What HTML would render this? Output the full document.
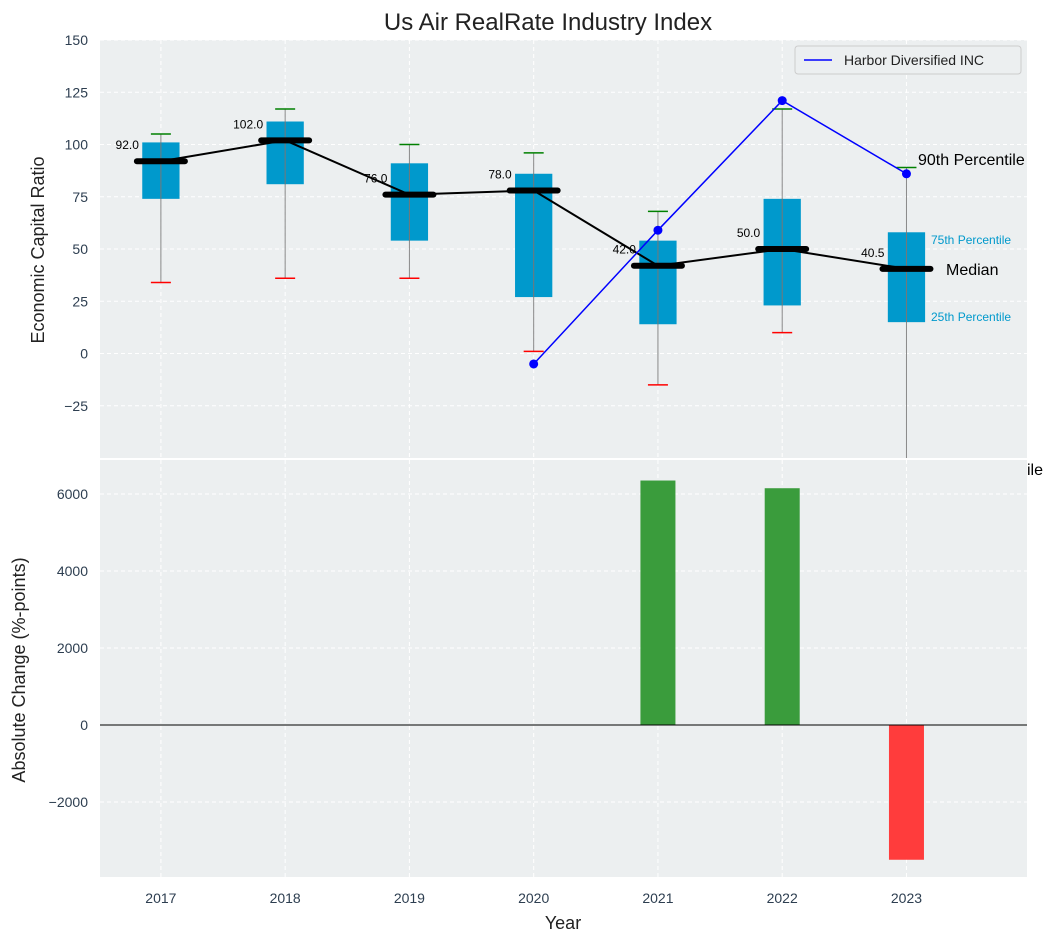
<!DOCTYPE html>
<html><head><meta charset="utf-8"><style>
body{margin:0;background:#fff;font-family:"Liberation Sans","DejaVu Sans",sans-serif}
svg{display:block}
</style></head><body>
<svg id="c" width="1053" height="942" xmlns="http://www.w3.org/2000/svg"></svg>
<script>
const years=[2017,2018,2019,2020,2021,2022,2023];
const q1=[74,81,54,27,14,23,15];
const q3=[101,111,91,86,54,74,58];
const medians=[92,102,76,78,42,50,40.5];
const p10=[34,36,36,1,-15,10,-60];
const p90=[105,117,100,96,68,117,89];
const harborYears=[2020,2021,2022,2023];
const harborVals=[-5,59,121,86];
const changeVals=[null,null,null,null,6350,6150,-3500];
const topTicks=[150,125,100,75,50,25,0,-25];
const botTicks=[6000,4000,2000,0,-2000];

const NS="http://www.w3.org/2000/svg";
const svg=document.getElementById('c');
function el(t,a,p){const e=document.createElementNS(NS,t);for(const k in a)e.setAttribute(k,a[k]);(p||svg).appendChild(e);return e;}
const L=100,R=1027;
const x=v=>L+(v-2016.51)/(2023.97-2016.51)*(R-L);
const T0=40,T1=458,B0=460,B1=877;
const yT=v=>T0+(150-v)/200*(T1-T0);
const yB=v=>B0+(6883-v)/(6883+3948)*(B1-B0);

let e;
e=el('rect',{x:L,y:T0,width:R-L,height:T1-T0,fill:'#eceff0'});

const grid=el('g',{stroke:'#fff','stroke-dasharray':'4,3','stroke-width':1});

years.forEach(v=>el('line',{x1:x(v),x2:x(v),y1:T0,y2:T1},grid));
topTicks.forEach(v=>el('line',{x1:L,x2:R,y1:yT(v),y2:yT(v)},grid));

const ta={'font-size':14,fill:'#2d3e50','text-anchor':'end'};
topTicks.forEach(v=>{e=el('text',Object.assign({x:L-12,y:yT(v)+5},ta));e.textContent=v<0?'−'+(-v):v;});
botTicks.forEach(v=>{e=el('text',Object.assign({x:L-12,y:yB(v)+5},ta));e.textContent=v<0?'−'+(-v):v;});
years.forEach(v=>{e=el('text',{x:x(v),y:903,'font-size':14,fill:'#2d3e50','text-anchor':'middle'});e.textContent=v;});

const bw=(x(2018)-x(2017))*0.3;
years.forEach((v,i)=>{
 const g=el('g',{});
 el('line',{x1:x(v),x2:x(v),y1:yT(p90[i]),y2:Math.min(T1,yT(p10[i])),stroke:'#888','stroke-width':1},g);
 el('rect',{x:x(v)-bw/2,y:yT(q3[i]),width:bw,height:yT(q1[i])-yT(q3[i]),fill:'#0099cc'},g);
 el('line',{x1:x(v),x2:x(v),y1:yT(q3[i]),y2:yT(q1[i]),stroke:'#777','stroke-width':1},g);
 el('line',{x1:x(v)-10,x2:x(v)+10,y1:yT(p90[i]),y2:yT(p90[i]),stroke:'green','stroke-width':1.5},g);
 if(yT(p10[i])<T1)el('line',{x1:x(v)-10,x2:x(v)+10,y1:yT(p10[i]),y2:yT(p10[i]),stroke:'red','stroke-width':1.5},g);
});
e=el('polyline',{points:years.map((v,i)=>x(v)+','+yT(medians[i])).join(' '),fill:'none',stroke:'#000','stroke-width':2});

years.forEach((v,i)=>{
 e=el('line',{x1:x(v)-24,x2:x(v)+24,y1:yT(medians[i]),y2:yT(medians[i]),stroke:'#000','stroke-width':6,'stroke-linecap':'round'});
 
 e=el('text',{x:x(v)-22,y:yT(medians[i])-12,'font-size':12,fill:'#000','text-anchor':'end'});e.textContent=medians[i].toFixed(1);
 
});
e=el('polyline',{points:harborYears.map((v,i)=>x(v)+','+yT(harborVals[i])).join(' '),fill:'none',stroke:'#0000ff','stroke-width':1.5});

harborYears.forEach((v,i)=>{e=el('circle',{cx:x(v),cy:yT(harborVals[i]),r:4.5,fill:'#0000ff'});});

const ann=[['90th Percentile',918,165,16,'#000'],['75th Percentile',931,244,12,'#0099cc'],['Median',946,275,16,'#000'],['25th Percentile',931,321,12,'#0099cc'],['10th Percentile',1043,475,16,'#000','end']];
ann.forEach(a=>{e=el('text',{x:a[1],y:a[2],'font-size':a[3],fill:a[4],'text-anchor':a[5]||'start'});e.textContent=a[0];});

// bottom panel drawn after annotations so it hides the overflowing label
e=el('rect',{x:L,y:B0,width:R-L,height:B1-B0,fill:'#eceff0'});

const grid2=el('g',{stroke:'#fff','stroke-dasharray':'4,3','stroke-width':1});

years.forEach(v=>el('line',{x1:x(v),x2:x(v),y1:B0,y2:B1},grid2));
botTicks.forEach(v=>el('line',{x1:L,x2:R,y1:yB(v),y2:yB(v)},grid2));

const barW=35;
years.forEach((v,i)=>{
 if(changeVals[i]==null)return;
 const y0=yB(0),y1=yB(changeVals[i]);
 e=el('rect',{x:x(v)-barW/2,y:Math.min(y0,y1),width:barW,height:Math.abs(y1-y0),fill:changeVals[i]>=0?'#3a9c3c':'#ff3c3c'});
 
});
e=el('line',{x1:L,x2:R,y1:yB(0),y2:yB(0),stroke:'#000','stroke-width':1});


e=el('text',{x:548,y:30,'font-size':24,fill:'#222','text-anchor':'middle'});e.textContent='Us Air RealRate Industry Index';
e=el('text',{x:0,y:0,'font-size':18,fill:'#222','text-anchor':'middle',transform:'translate(44,250) rotate(-90)'});e.textContent='Economic Capital Ratio';
e=el('text',{x:0,y:0,'font-size':18,fill:'#222','text-anchor':'middle',transform:'translate(25,670) rotate(-90)'});e.textContent='Absolute Change (%-points)';
e=el('text',{x:563,y:929,'font-size':18,fill:'#222','text-anchor':'middle'});e.textContent='Year';

const lg=el('g',{});
el('rect',{x:795,y:46,width:226,height:28,rx:3,fill:'#eceff0',stroke:'#ccc'},lg);
el('line',{x1:804,x2:832,y1:60,y2:60,stroke:'#0000ff','stroke-width':1.5},lg);
e=el('text',{x:844,y:65,'font-size':14,fill:'#222'},lg);e.textContent='Harbor Diversified INC';
</script>
</body></html>
